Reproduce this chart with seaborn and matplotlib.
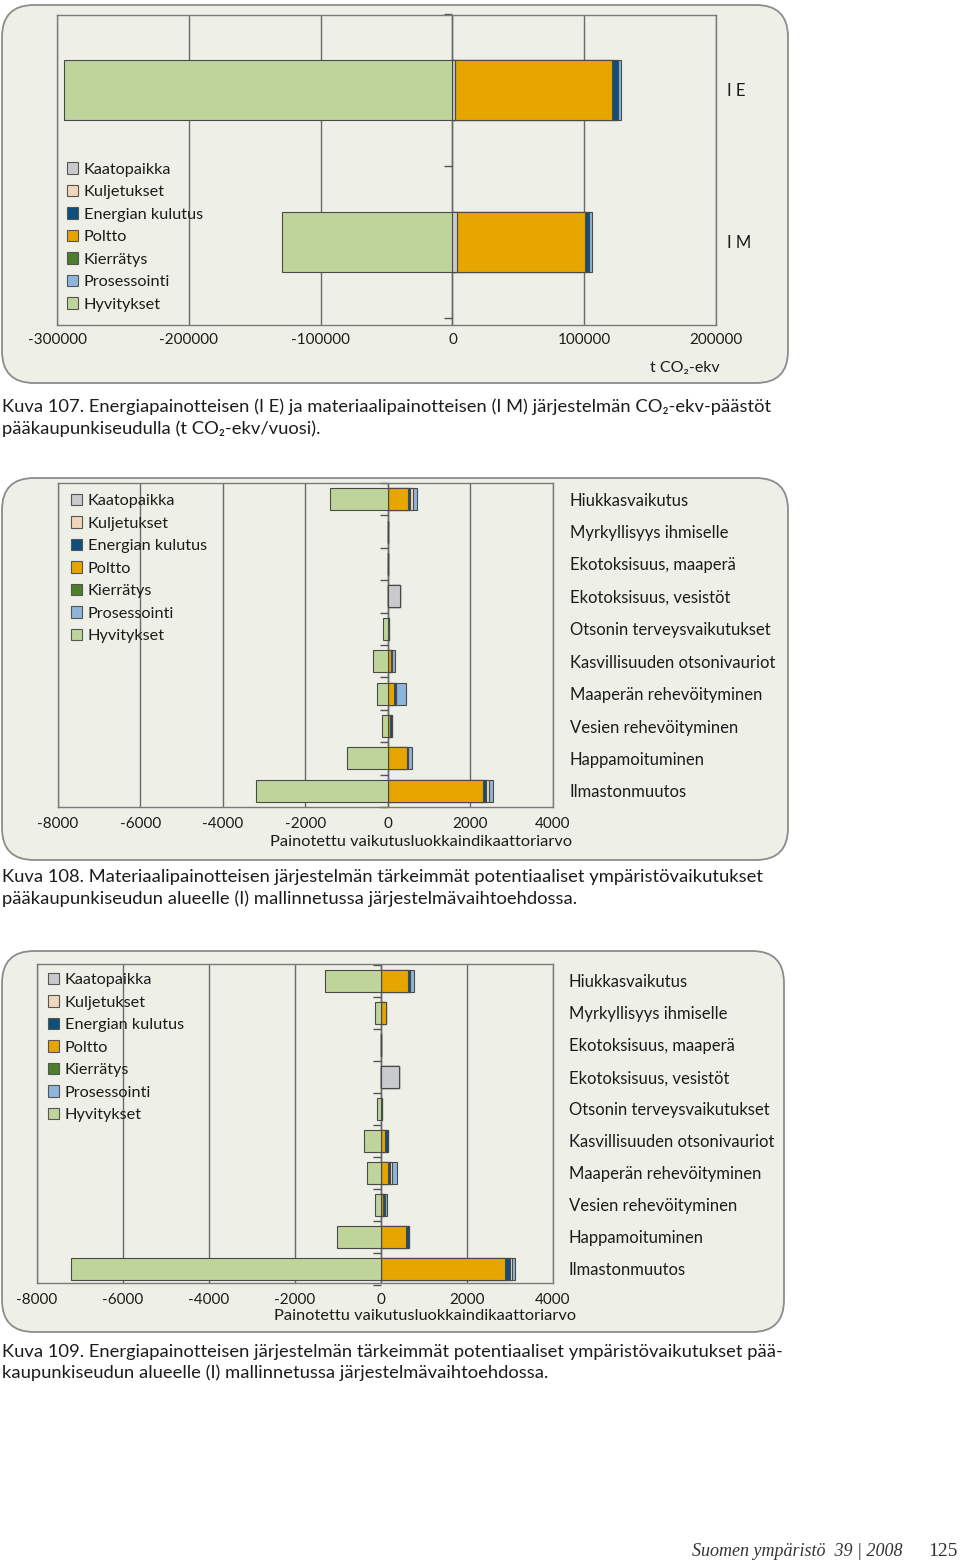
import numpy as np
import matplotlib
matplotlib.use("Agg")
import matplotlib.pyplot as plt
from matplotlib.patches import FancyBboxPatch, Patch
import seaborn as sns

# --- data -------------------------------------------------------------
series_names = ["Kaatopaikka", "Kuljetukset", "Energian kulutus", "Poltto",
                "Kierrätys", "Prosessointi", "Hyvitykset"]
series_colors = {
    "Kaatopaikka": "#c9cacd",
    "Kuljetukset": "#f1d7ba",
    "Energian kulutus": "#0e4f7d",
    "Poltto": "#e7a500",
    "Kierrätys": "#4d7e2b",
    "Prosessointi": "#8fb5dc",
    "Hyvitykset": "#bfd49b",
}
# order of positive segments from zero outwards
stack_order = ["Kaatopaikka", "Kierrätys", "Poltto", "Energian kulutus",
               "Kuljetukset", "Prosessointi"]

# Kuva 107, t CO2-ekv
systems = ["I E", "I M"]
kaatopaikka_1 = [2300, 3300]
kuljetukset_1 = [0, 0]
energia_1 = [4000, 3500]
poltto_1 = [119000, 97000]
kierratys_1 = [0, 0]
prosessointi_1 = [2300, 2000]
hyvitykset_1 = [-295000, -129000]

luokat = ["Hiukkasvaikutus", "Myrkyllisyys ihmiselle", "Ekotoksisuus, maaperä",
          "Ekotoksisuus, vesistöt", "Otsonin terveysvaikutukset",
          "Kasvillisuuden otsonivauriot", "Maaperän rehevöityminen",
          "Vesien rehevöityminen", "Happamoituminen", "Ilmastonmuutos"]

# Kuva 108, materiaalipainotteinen
kaatopaikka_2 = [0, 0, 0, 300, 0, 0, 0, 0, 0, 0]
kuljetukset_2 = [65, 0, 0, 0, 0, 0, 0, 0, 0, 70]
energia_2 = [40, 0, 0, 0, 30, 20, 40, 40, 40, 70]
poltto_2 = [490, 0, 0, 0, 0, 80, 150, 50, 450, 2310]
kierratys_2 = [0, 0, 0, 0, 0, 0, 0, 0, 0, 0]
prosessointi_2 = [105, 0, 0, 0, 0, 70, 250, 0, 90, 100]
hyvitykset_2 = [-1400, 0, 0, 0, -120, -370, -260, -140, -1000, -3200]

# Kuva 109, energiapainotteinen
kaatopaikka_3 = [0, 0, 0, 410, 0, 0, 0, 0, 0, 0]
kuljetukset_3 = [0, 0, 0, 0, 0, 0, 45, 0, 0, 45]
energia_3 = [55, 0, 0, 0, 30, 70, 40, 30, 85, 115]
poltto_3 = [627, 125, 0, 0, 0, 100, 170, 55, 573, 2895]
kierratys_3 = [0, 0, 0, 0, 0, 0, 0, 0, 0, 0]
prosessointi_3 = [75, 0, 0, 0, 0, 0, 108, 54, 0, 70]
hyvitykset_3 = [-1290, -140, 0, 0, -85, -387, -325, -139, -1015, -7215]

ticks_1 = [-300000, -200000, -100000, 0, 100000, 200000]
ticks_2 = [-8000, -6000, -4000, -2000, 0, 2000, 4000]

# --- style ------------------------------------------------------------
sns.set_theme(style="white")
plt.rcParams["font.family"] = ["Lato", "DejaVu Sans"]
plt.rcParams["axes.unicode_minus"] = False
TXT = "#1c1c1c"
EDGE = "#4a4a4a"
PANEL = "#eef0e8"

fig = plt.figure(figsize=(9.6, 15.64), dpi=100)
fig.patch.set_facecolor("white")

# rounded panels (inches)
for x0, y0, w, h in [(0.02, 11.81, 7.86, 3.78), (0.02, 7.04, 7.86, 3.82),
                     (0.02, 2.32, 7.82, 3.81)]:
    fig.add_artist(FancyBboxPatch((x0, y0), w, h,
                                  boxstyle="round,pad=0,rounding_size=0.32",
                                  transform=fig.dpi_scale_trans, fc=PANEL,
                                  ec="#8c8c8c", lw=1.3, zorder=-5))


def draw_panel(ax, cats, parts, hyv, ticks, ylim, bar_w, pad_y, pad_x):
    stack = np.array([parts[n] for n in stack_order], dtype=float)
    cum = np.cumsum(stack, axis=0)
    # widest first so the inner segments are painted over it
    for i in range(len(stack_order) - 1, -1, -1):
        sns.barplot(x=cum[i], y=cats, order=cats, orient="y",
                    color=series_colors[stack_order[i]], saturation=1,
                    edgecolor=EDGE, linewidth=0.8, width=bar_w,
                    errorbar=None, ax=ax)
    sns.barplot(x=hyv, y=cats, order=cats, orient="y",
                color=series_colors["Hyvitykset"], saturation=1,
                edgecolor=EDGE, linewidth=0.8, width=bar_w,
                errorbar=None, ax=ax)

    ax.set_facecolor("none")
    ax.set_xlim(ticks[0], ticks[-1])
    ax.set_ylim(*ylim)
    ax.set_xticks(ticks, labels=[str(t) for t in ticks])
    ax.set_xlabel("")
    ax.set_ylabel("")
    ax.grid(axis="x", color="#6a6a6a", lw=1)
    ax.grid(axis="y", visible=False)
    ax.set_axisbelow(True)
    for s in ax.spines.values():
        s.set_visible(True)
        s.set_color("#7a7a7a")
        s.set_linewidth(1)
    ax.axvline(0, color="#555555", lw=1, zorder=0.5)
    bounds = np.arange(len(cats) + 1) - 0.5
    ax.plot(np.zeros(len(bounds)), bounds, ls="none", marker=0, ms=6,
            mew=1, color="#555555", clip_on=False)
    ax.yaxis.tick_right()
    ax.tick_params(axis="y", length=0, pad=pad_y, labelsize=12,
                   labelcolor=TXT, labelright=True, labelleft=False)
    ax.tick_params(axis="x", length=0, pad=pad_x, labelsize=11,
                   labelcolor=TXT)
    for lab in ax.get_yticklabels():
        lab.set_horizontalalignment("left")


def add_legend(ax, anchor):
    handles = [Patch(facecolor=series_colors[n], edgecolor="#555555", lw=0.8)
               for n in series_names]
    ax.legend(handles, series_names, loc="upper left", bbox_to_anchor=anchor,
              frameon=False, fontsize=11.7, handlelength=0.7, handleheight=0.7,
              handletextpad=0.35, labelspacing=0.5, borderpad=0,
              borderaxespad=0, labelcolor=TXT)


# --- Kuva 107 ---------------------------------------------------------
ax1 = fig.add_axes([0.0594, 0.7922, 0.6865, 0.1982])
parts1 = {"Kaatopaikka": kaatopaikka_1, "Kuljetukset": kuljetukset_1,
          "Energian kulutus": energia_1, "Poltto": poltto_1,
          "Kierrätys": kierratys_1, "Prosessointi": prosessointi_1}
draw_panel(ax1, systems, parts1, hyvitykset_1, ticks_1, (1.546, -0.493),
           0.40, 8, 5.5)
add_legend(ax1, (0.015, 0.525))
ax1.text(1.006, -0.139, "t CO₂-ekv", transform=ax1.transAxes, ha="right",
         va="center", fontsize=11.5, color=TXT)

# --- Kuva 108 ---------------------------------------------------------
ax2 = fig.add_axes([0.0604, 0.4840, 0.5156, 0.2072])
parts2 = {"Kaatopaikka": kaatopaikka_2, "Kuljetukset": kuljetukset_2,
          "Energian kulutus": energia_2, "Poltto": poltto_2,
          "Kierrätys": kierratys_2, "Prosessointi": prosessointi_2}
draw_panel(ax2, luokat, parts2, hyvitykset_2, ticks_2, (9.5, -0.5),
           0.68, 12, 7.5)
add_legend(ax2, (0.026, 0.966))
ax2.set_xlabel("Painotettu vaikutusluokkaindikaattoriarvo", fontsize=11.8,
               color=TXT)
ax2.xaxis.set_label_coords(0.734, -0.085)

# --- Kuva 109 ---------------------------------------------------------
ax3 = fig.add_axes([0.0385, 0.1797, 0.5375, 0.2040])
parts3 = {"Kaatopaikka": kaatopaikka_3, "Kuljetukset": kuljetukset_3,
          "Energian kulutus": energia_3, "Poltto": poltto_3,
          "Kierrätys": kierratys_3, "Prosessointi": prosessointi_3}
draw_panel(ax3, luokat, parts3, hyvitykset_3, ticks_2, (9.44, -0.53),
           0.68, 11.5, 7.5)
add_legend(ax3, (0.021, 0.972))
ax3.set_xlabel("Painotettu vaikutusluokkaindikaattoriarvo", fontsize=11.8,
               color=TXT)
ax3.xaxis.set_label_coords(0.753, -0.083)

# --- captions ---------------------------------------------------------
H = 1564.0
caps = [
    (407, "Kuva 107. Energiapainotteisen (I E) ja materiaalipainotteisen (I M) järjestelmän CO₂-ekv-päästöt"),
    (429, "pääkaupunkiseudulla (t CO₂-ekv/vuosi)."),
    (877, "Kuva 108. Materiaalipainotteisen järjestelmän tärkeimmät potentiaaliset ympäristövaikutukset"),
    (899, "pääkaupunkiseudun alueelle (I) mallinnetussa järjestelmävaihtoehdossa."),
    (1352, "Kuva 109. Energiapainotteisen järjestelmän tärkeimmät potentiaaliset ympäristövaikutukset pää-"),
    (1373, "kaupunkiseudun alueelle (I) mallinnetussa järjestelmävaihtoehdossa."),
]
for y, s in caps:
    fig.text(2 / 960, 1 - y / H, s, ha="left", va="center", fontsize=13.2,
             color=TXT)

fig.text(903 / 960, 1 - 1552 / H, "Suomen ympäristö  39 | 2008", ha="right",
         va="center", fontsize=13, style="italic", color="#333333",
         family=["Liberation Serif", "DejaVu Serif"])
fig.text(958 / 960, 1 - 1551 / H, "125", ha="right", va="center", fontsize=14,
         color="#333333", family=["Liberation Serif", "DejaVu Serif"])

fig.savefig("out.png", dpi=100)
